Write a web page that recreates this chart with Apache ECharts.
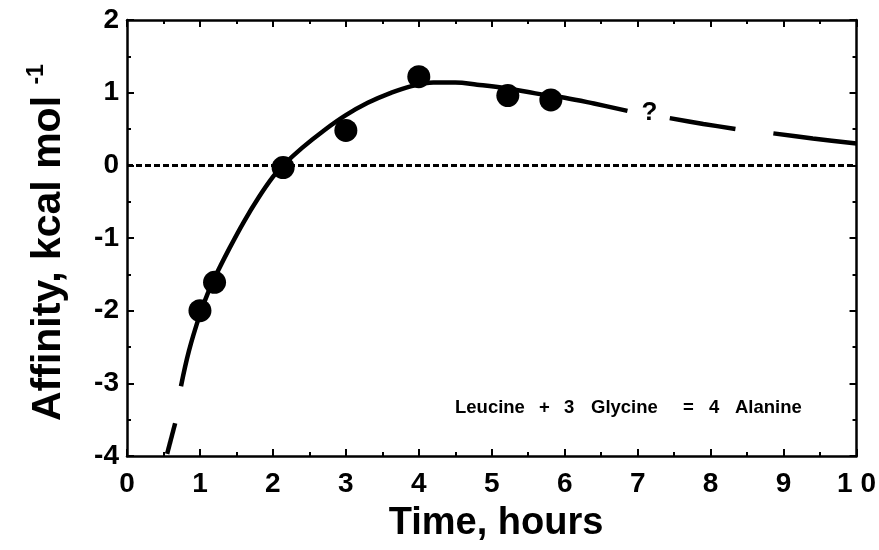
<!DOCTYPE html>
<html>
<head>
<meta charset="utf-8">
<script src="https://cdn.jsdelivr.net/npm/echarts@6/dist/echarts.min.js"></script>
<style>
  html, body { margin: 0; padding: 0; background: #fff; }
  #chart { width: 879px; height: 550px; }
</style>
</head>
<body>
<div id="chart"></div>
<script>
// Measured affinity of the reaction vs. time
const measuredTime = [1.0, 1.2, 2.14, 3.0, 4.0, 5.22, 5.81];
const measuredAffinity = [-2.0, -1.61, -0.03, 0.48, 1.22, 0.96, 0.9];

// Fitted curve, drawn as separate pieces
const leadPiece = [[0.55, -3.97], [0.66, -3.55]];
const fitTime = [0.74, 0.85, 1.0, 1.1, 1.2, 1.4, 1.6, 1.8, 2.0, 2.14, 2.4, 2.7, 3.0, 3.3, 3.6, 3.9, 4.2, 4.5, 4.8, 5.2, 5.6, 6.0, 6.4, 6.86];
const fitAffinity = [-3.04, -2.55, -2.05, -1.78, -1.55, -1.15, -0.78, -0.45, -0.16, 0.0, 0.24, 0.48, 0.69, 0.86, 0.99, 1.09, 1.14, 1.14, 1.11, 1.06, 0.99, 0.93, 0.85, 0.75];
const tailPieceA = [[7.44, 0.65], [7.9, 0.57], [8.34, 0.5]];
const tailPieceB = [[8.86, 0.44], [9.4, 0.37], [10.0, 0.3]];

// Axis ranges and tick labels
const xTicks = ['0', '1', '2', '3', '4', '5', '6', '7', '8', '9', '1 0'];
const yRange = [-4, 2];
const xRange = [0, 10];

// Reaction equation, word by word
const reactionWords = ['Leucine', '+', '3', 'Glycine', '=', '4', 'Alanine'];
const questionMark = { coord: [7.16, 0.72], text: '?' };

const FONT = 'Liberation Sans, Arial, Helvetica, sans-serif';
const INK = '#000';

const chart = echarts.init(document.getElementById('chart'));

function axisBase(extra) {
  return Object.assign({
    type: 'value',
    interval: 1,
    axisLine: { show: true, onZero: false, lineStyle: { color: INK, width: 2.5 } },
    axisTick: { show: true, inside: true, length: 7, lineStyle: { color: INK, width: 2 } },
    minorTick: { show: true, splitNumber: 2, length: 4, lineStyle: { color: INK, width: 2 } },
    splitLine: { show: false },
    minorSplitLine: { show: false }
  }, extra);
}

const labelStyle = { color: INK, fontFamily: FONT, fontWeight: 'bold', fontSize: 28 };

const fitData = fitTime.map((t, i) => [t, fitAffinity[i]]);
const pointData = measuredTime.map((t, i) => [t, measuredAffinity[i]]);

const curveStyle = { color: INK, width: 4.5, cap: 'butt', opacity: 1 };

// Left edge of each word of the equation
const wordLeft = [455, 539, 564, 591, 683, 709, 735];
const equation = reactionWords.map((w, i) => ({
  type: 'text', x: wordLeft[i], y: 398,
  style: { text: w, fill: INK, font: 'bold 18.5px ' + FONT }
}));

chart.setOption({
  animation: false,
  backgroundColor: '#fff',
  grid: { left: 127, right: 22, top: 20, bottom: 94, containLabel: false },
  xAxis: [
    axisBase({
      min: xRange[0], max: xRange[1], position: 'bottom',
      axisLabel: {
        ...labelStyle, margin: 14,
        formatter: v => xTicks[Math.round(v)]
      }
    }),
    axisBase({ min: xRange[0], max: xRange[1], position: 'top', axisLabel: { show: false } })
  ],
  yAxis: [
    axisBase({
      min: yRange[0], max: yRange[1], position: 'left',
      axisLabel: { ...labelStyle, margin: 8 }
    }),
    axisBase({ min: yRange[0], max: yRange[1], position: 'right', axisLabel: { show: false } })
  ],
  series: [
    {
      type: 'line', data: leadPiece, showSymbol: false, smooth: false,
      lineStyle: curveStyle, z: 3
    },
    {
      type: 'line', data: fitData, showSymbol: false, smooth: 0.4,
      lineStyle: curveStyle, z: 3,
      markLine: {
        silent: true, symbol: 'none', label: { show: false },
        lineStyle: { color: INK, width: 3, type: [6, 3], opacity: 1 },
        data: [{ yAxis: 0 }]
      },
      markPoint: {
        symbol: 'circle', symbolSize: 1,
        itemStyle: { color: 'rgba(0,0,0,0)' },
        label: {
          show: true, position: 'inside', formatter: questionMark.text,
          color: INK, fontFamily: FONT, fontWeight: 'bold', fontSize: 26
        },
        data: [{ coord: questionMark.coord }]
      }
    },
    {
      type: 'line', data: tailPieceA, showSymbol: false, smooth: 0.3,
      lineStyle: curveStyle, z: 3
    },
    {
      type: 'line', data: tailPieceB, showSymbol: false, smooth: 0.3,
      lineStyle: curveStyle, z: 3
    },
    {
      type: 'scatter', data: pointData, symbol: 'circle', symbolSize: 23,
      itemStyle: { color: INK, opacity: 1 }, z: 4
    }
  ],
  graphic: [
    ...equation,
    {
      type: 'text', x: 496, y: 543,
      style: {
        text: 'Time, hours', fill: INK,
        align: 'center', verticalAlign: 'bottom',
        font: 'bold 38px ' + FONT
      }
    },
    {
      type: 'text', x: 25, y: 421, rotation: Math.PI / 2,
      style: {
        text: '{m|Affinity, kcal mol }{s|-1}',
        fill: INK,
        rich: {
          m: { fontFamily: FONT, fontWeight: 'bold', fontSize: 41, fill: INK },
          s: { fontFamily: FONT, fontWeight: 'bold', fontSize: 23, fill: INK, verticalAlign: 'top', padding: [0, 0, 24, 0] }
        }
      }
    }
  ]
});
</script>
</body>
</html>
